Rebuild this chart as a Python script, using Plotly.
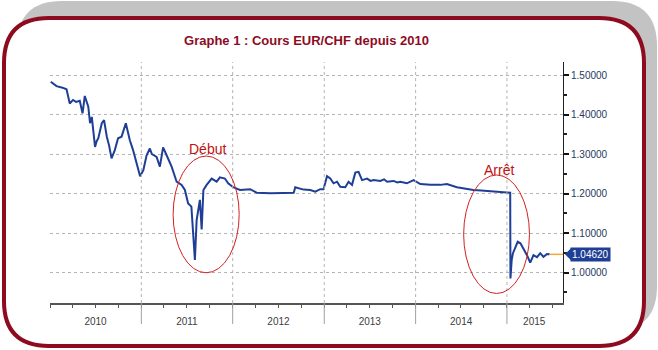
import plotly.graph_objects as go

# ---------------- data ----------------
dates = [
    "2010-01-04", "2010-01-27", "2010-02-20", "2010-03-08", "2010-03-21", "2010-04-03",
    "2010-04-15", "2010-04-30", "2010-05-11", "2010-05-20", "2010-06-03", "2010-06-10",
    "2010-06-17", "2010-06-30", "2010-07-06", "2010-07-13", "2010-07-27", "2010-08-05",
    "2010-08-16", "2010-08-25", "2010-09-04", "2010-09-17", "2010-09-30", "2010-10-14",
    "2010-10-31", "2010-11-08", "2010-11-16", "2010-11-29", "2010-12-15", "2010-12-27",
    "2011-01-09", "2011-01-22", "2011-02-04", "2011-02-12", "2011-02-20", "2011-03-03",
    "2011-03-16", "2011-03-29", "2011-04-12", "2011-05-02", "2011-05-22", "2011-06-11",
    "2011-06-24", "2011-07-07", "2011-07-20", "2011-08-03", "2011-08-10", "2011-08-23",
    "2011-08-30", "2011-09-06", "2011-09-19", "2011-10-09", "2011-10-29", "2011-11-11",
    "2011-12-01", "2011-12-14", "2012-01-03", "2012-01-30", "2012-03-11", "2012-04-07",
    "2012-06-01", "2012-09-01", "2012-09-07", "2012-10-10", "2012-11-06", "2012-11-26",
    "2012-12-16", "2012-12-29", "2013-01-12", "2013-01-25", "2013-02-07", "2013-02-21",
    "2013-03-06", "2013-03-26", "2013-04-08", "2013-04-22", "2013-05-05", "2013-05-18",
    "2013-06-01", "2013-06-21", "2013-07-05", "2013-07-17", "2013-08-13", "2013-08-28",
    "2013-09-09", "2013-10-05", "2013-10-20", "2013-11-01", "2013-11-27", "2013-12-24",
    "2014-01-20", "2014-03-01", "2014-04-10", "2014-05-06", "2014-06-15", "2014-08-07",
    "2014-08-20", "2014-09-20", "2014-11-08", "2014-12-10", "2015-01-14", "2015-01-15",
    "2015-01-20", "2015-01-25", "2015-02-03", "2015-02-13", "2015-02-24", "2015-03-08",
    "2015-03-22", "2015-04-04", "2015-04-17", "2015-05-01", "2015-05-14", "2015-05-27",
    "2015-06-10", "2015-06-20",
]
eurchf = [
    1.483, 1.472, 1.468, 1.464, 1.428, 1.437,
    1.432, 1.435, 1.403, 1.447, 1.420, 1.378,
    1.394, 1.318, 1.332, 1.340, 1.378, 1.386,
    1.344, 1.322, 1.289, 1.310, 1.340, 1.344,
    1.378, 1.352, 1.335, 1.310, 1.268, 1.244,
    1.259, 1.297, 1.314, 1.300, 1.297, 1.293,
    1.268, 1.317, 1.297, 1.268, 1.230, 1.222,
    1.209, 1.175, 1.167, 1.032, 1.133, 1.184,
    1.109, 1.209, 1.222, 1.238, 1.230, 1.241,
    1.238, 1.226, 1.216, 1.209, 1.211, 1.202,
    1.201, 1.202, 1.216, 1.210, 1.209, 1.205,
    1.211, 1.211, 1.244, 1.238, 1.226, 1.230,
    1.217, 1.216, 1.230, 1.222, 1.253, 1.255,
    1.234, 1.238, 1.232, 1.234, 1.232, 1.236,
    1.230, 1.232, 1.228, 1.230, 1.226, 1.234,
    1.224, 1.222, 1.222, 1.224, 1.216, 1.211,
    1.209, 1.208, 1.205, 1.203, 1.202, 0.985,
    1.032, 1.049, 1.065, 1.078, 1.074, 1.061,
    1.044, 1.025, 1.044, 1.039, 1.049, 1.040,
    1.047, 1.0462,
]
years = ["2010", "2011", "2012", "2013", "2014", "2015"]
year_label_pos = ["2010-07-02", "2011-07-02", "2012-07-02", "2013-07-02", "2014-07-02", "2015-04-20"]
year_bounds = ["2011-01-01", "2012-01-01", "2013-01-01", "2014-01-01", "2015-01-01"]
y_ticks = [1.0, 1.1, 1.2, 1.3, 1.4, 1.5]
x_range = ["2010-01-01", "2015-08-13"]
y_range = [0.923, 1.533]

last_date, last_val = dates[-1], eurchf[-1]

# ---------------- layout geometry (pixels) ----------------
W, H = 658, 350
L, R, T, B = 50, 563, 62, 303

def pxx(x):
    return (x - L) / (R - L)

def pxy(y):
    return (B - y) / (B - T)

def rrect(x0, y0, x1, y1, r):
    pts = [
        ("M", [(x0 + r, y0)]), ("L", [(x1 - r, y0)]), ("Q", [(x1, y0), (x1, y0 + r)]),
        ("L", [(x1, y1 - r)]), ("Q", [(x1, y1), (x1 - r, y1)]),
        ("L", [(x0 + r, y1)]), ("Q", [(x0, y1), (x0, y1 - r)]),
        ("L", [(x0, y0 + r)]), ("Q", [(x0, y0), (x0 + r, y0)]),
    ]
    s = ""
    for cmd, ps in pts:
        s += cmd + " " + " ".join(f"{pxx(a):.5f},{pxy(b):.5f}" for a, b in ps) + " "
    return s + "Z"

DARK_RED = "#8E0B1F"
BLUE = "#1F3F96"

fig = go.Figure()

# orange last-value guide
fig.add_trace(go.Scatter(x=[last_date, x_range[1]], y=[last_val, last_val], mode="lines",
                         line=dict(color="#F2A93B", width=1.5), hoverinfo="skip", showlegend=False))
fig.add_trace(go.Scatter(x=dates, y=eurchf, mode="lines",
                         line=dict(color=BLUE, width=2), showlegend=False))

shapes = []
# frame: grey shadow + dark red rounded border
shapes.append(dict(type="path", xref="paper", yref="paper", layer="below",
                   path=rrect(17, 1, 657, 331, 45), fillcolor="#C3C3C3", line=dict(width=0)))
shapes.append(dict(type="path", xref="paper", yref="paper", layer="below",
                   path=rrect(4, 18, 644, 346, 45), fillcolor="white",
                   line=dict(color=DARK_RED, width=4)))
# year dividers
for yb in year_bounds:
    shapes.append(dict(type="line", xref="x", yref="paper", x0=yb, x1=yb, y0=0, y1=1,
                       line=dict(color="#B4B4B4", width=1, dash="dot")))
    shapes.append(dict(type="line", xref="x", yref="paper", x0=yb, x1=yb, y0=pxy(324), y1=0,
                       line=dict(color="#A0A0A0", width=1)))
# ellipses
shapes.append(dict(type="circle", xref="x", yref="y", x0="2011-05-08", x1="2012-01-27",
                   y0=0.9995, y1=1.295, line=dict(color="#D42020", width=1)))
shapes.append(dict(type="circle", xref="x", yref="y", x0="2014-07-12", x1="2015-04-01",
                   y0=0.947, y1=1.247, line=dict(color="#D42020", width=1)))
# pointer of last-value label
shapes.append(dict(type="path", xref="paper", yref="y", xsizemode="pixel", ysizemode="pixel",
                   xanchor=1, yanchor=last_val, path="M 2,0 L 8,6 L 8,-6 Z",
                   fillcolor=BLUE, line=dict(width=0)))

annotations = [
    dict(text="Début", x="2011-09-24", y=1.313, xref="x", yref="y", showarrow=False,
         font=dict(family="Liberation Sans, Arial", size=14, color="#C01010")),
    dict(text="Arrêt", x="2014-12-02", y=1.259, xref="x", yref="y", showarrow=False,
         font=dict(family="Liberation Sans, Arial", size=14, color="#C01010")),
    dict(text=f"{last_val:.5f}", x=1, y=last_val, xref="paper", yref="y", xanchor="left",
         xshift=7, showarrow=False, bgcolor=BLUE, borderpad=1,
         font=dict(family="Liberation Sans, Arial", size=10, color="white")),
]

fig.update_layout(
    width=W, height=H,
    margin=dict(l=L, r=W - R, t=T, b=H - B),
    paper_bgcolor="white", plot_bgcolor="rgba(0,0,0,0)",
    title=dict(text="<b>Graphe 1 : Cours EUR/CHF depuis 2010</b>", x=0.5, xanchor="center",
               xref="paper", y=1 - 40 / H, yref="container", yanchor="middle",
               font=dict(family="Liberation Sans, Arial", size=13, color=DARK_RED)),
    shapes=shapes, annotations=annotations,
    xaxis=dict(type="date", range=x_range, tickvals=year_label_pos, ticktext=years,
               ticks="", showgrid=False, zeroline=False, showline=True,
               linecolor="#555555", linewidth=1.5, ticklabelstandoff=8,
               tickfont=dict(family="Liberation Sans, Arial", size=10, color="#404040"),
               minor=dict(dtick="M3", tick0="2010-01-01", ticks="outside", ticklen=3,
                          tickcolor="#555555", showgrid=False)),
    yaxis=dict(range=y_range, side="right", tickvals=y_ticks, tickformat=".5f",
               ticks="outside", ticklen=5, tickwidth=1.5, tickcolor="#111111",
               showline=True, linecolor="#222222", linewidth=1, zeroline=False,
               showgrid=True, gridcolor="#B4B4B4", griddash="dot", gridwidth=1,
               tickfont=dict(family="Liberation Sans, Arial", size=10, color="#26395E"),
               minor=dict(dtick=0.05, tick0=0, ticks="outside", ticklen=3,
                          tickcolor="#222222", showgrid=False)),
)

fig.write_html("out.html")
